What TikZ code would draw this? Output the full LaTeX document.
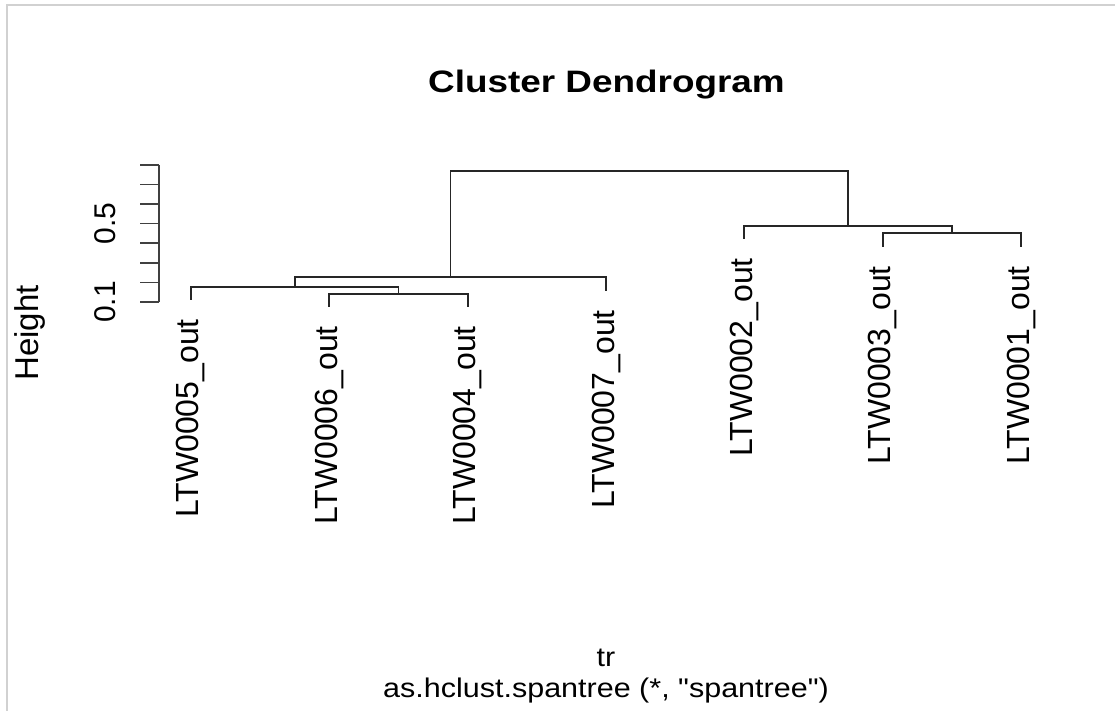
\documentclass[tikz,border=0pt]{standalone}
\usepackage{fontspec}
\setmainfont{Liberation Sans}[Ligatures=TeXOff]
\begin{document}
\begin{tikzpicture}[x=1pt,y=-1pt,
  branch/.style={line width=1.7pt, draw=black!85, line cap=rect},
  axisline/.style={line width=1.7pt, draw=black!75},
  leaflab/.style={rotate=90, anchor=east, inner sep=0pt,
    font=\fontsize{32}{34}\selectfont},
  ticklab/.style={rotate=90, anchor=center, inner sep=0pt,
    font=\fontsize{30}{32}\selectfont},
  plaintext/.style={inner sep=0pt, anchor=base,
    font=\fontsize{27}{29}\selectfont}]

% canvas and frame
\fill[white] (0,0) rectangle (1115,711);
\useasboundingbox (0,0) rectangle (1115,711);
\draw[black!18, line width=1.5pt] (7,711) -- (7,5) -- (1115,5);

% title
\node[inner sep=0pt, anchor=base, font=\bfseries\fontsize{31}{33}\selectfont]
  (title) at (606.5,93) {\scalebox{1.19}[1]{Cluster Dendrogram}};

% height axis
\coordinate (ax0) at (159,302);
\coordinate (ax1) at (159,164.8);
\draw[axisline] (ax0) -- (ax1);
\foreach \k in {0,...,7}
  \draw[axisline] (159,{302-19.6*\k}) -- (140,{302-19.6*\k});
\node[ticklab] (t01) at (105,302) {0.1};
\node[ticklab] (t05) at (105,223.6) {0.5};
\node[ticklab, font=\fontsize{33}{35}\selectfont] (ylab) at (30,333) {Height};

% leaf ends
\coordinate (l5) at (191,299);
\coordinate (l6) at (329.3,306);
\coordinate (l4) at (467.7,306);
\coordinate (l7) at (606,290);
\coordinate (l2) at (744.3,238);
\coordinate (l3) at (882.7,246);
\coordinate (l1) at (1021,246);

% merge points
\coordinate (m64) at (398.5,294);
\coordinate (m564) at (294.75,287);
\coordinate (m5647) at (450.4,277);
\coordinate (m31) at (951.85,233);
\coordinate (m231) at (848.1,226);
\coordinate (root) at (649.25,171);

% branches
\draw[branch] (l6) |- (m64) -| (l4);
\draw[branch] (l5) |- (m564) -| (m64);
\draw[branch] (m564) |- (m5647) -| (l7);
\draw[branch] (l3) |- (m31) -| (l1);
\draw[branch] (l2) |- (m231) -| (m31);
\draw[branch] (m5647) |- (root) -| (m231);

% leaf labels
\node[leaflab] (n5) at (191,319) {LTW0005\_out};
\node[leaflab] (n6) at (329.3,326) {LTW0006\_out};
\node[leaflab] (n4) at (467.7,326) {LTW0004\_out};
\node[leaflab] (n7) at (606,310) {LTW0007\_out};
\node[leaflab] (n2) at (744.3,258) {LTW0002\_out};
\node[leaflab] (n3) at (882.7,266) {LTW0003\_out};
\node[leaflab] (n1) at (1021,266) {LTW0001\_out};

% axis titles
\node[plaintext] (xlab) at (606,666) {\scalebox{1.13}[1]{tr}};
\node[plaintext] (sub) at (606,697) {\scalebox{1.13}[1]{as.hclust.spantree (*, "spantree")}};
\end{tikzpicture}
\end{document}
